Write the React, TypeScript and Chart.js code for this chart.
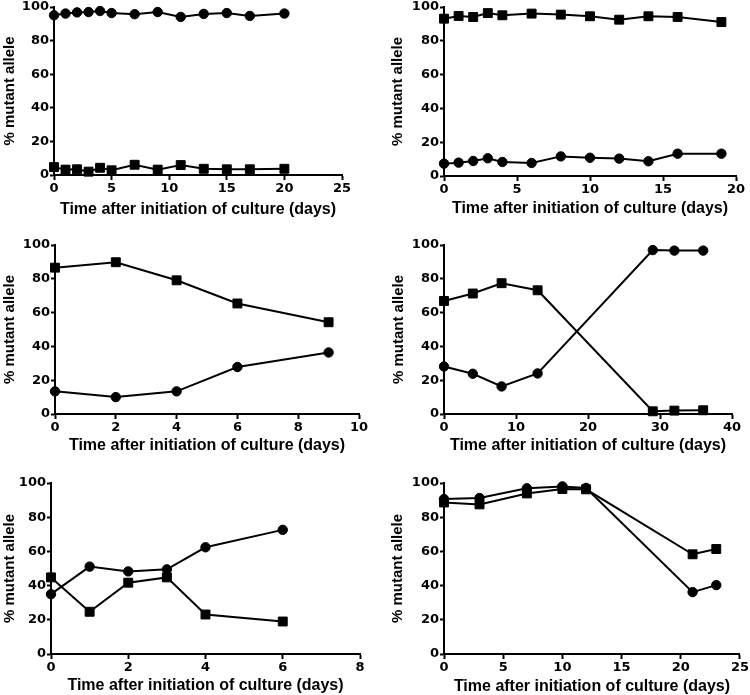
import React, { useEffect, useRef } from "react";
import { Chart, registerables } from "chart.js";
Chart.register(...registerables);

// ---------- data ----------
const Y_TICKS_MAX = 100;
const Y_STEP = 20;
const X_TITLE = "Time after initiation of culture (days)";
const Y_TITLE = "% mutant allele";

// Panel 1 (top left)
const p1Days = [0, 1, 2, 3, 4, 5, 7, 9, 11, 13, 15, 17, 20];
const p1Circle = [95.1, 96.1, 96.8, 97.0, 97.6, 96.4, 95.7, 97.0, 94.1, 95.9, 96.4, 94.7, 96.1];
const p1Square = [4.7, 3.2, 3.4, 2.0, 4.3, 2.8, 6.1, 3.2, 5.9, 3.7, 3.4, 3.4, 3.7];

// Panel 2 (top right)
const p2Days = [0, 1, 2, 3, 4, 6, 8, 10, 12, 14, 16, 19];
const p2Square = [93.1, 94.7, 94.1, 96.4, 95.1, 96.1, 95.5, 94.5, 92.5, 94.5, 94.1, 91.1];
const p2Circle = [7.3, 7.9, 8.9, 10.5, 8.3, 7.7, 11.6, 10.8, 10.3, 8.7, 13.2, 13.2];

// Panel 3 (middle left)
const p3Days = [0, 2, 4, 6, 9];
const p3Square = [86.6, 89.8, 79.1, 65.4, 54.3];
const p3Circle = [13.4, 10.0, 13.4, 27.8, 36.4];

// Panel 4 (middle right)
const p4Days = [0, 4, 8, 13, 29, 32, 36];
const p4Square = [66.9, 71.3, 77.4, 73.2, 1.6, 2.0, 2.2];
const p4Circle = [28.1, 23.8, 16.3, 24.0, 97.0, 96.7, 96.7];

// Panel 5 (bottom left)
const p5Days = [0, 1, 2, 3, 4, 6];
const p5Circle = [35.0, 51.1, 48.3, 49.5, 62.4, 72.6];
const p5Square = [44.8, 24.7, 41.7, 44.8, 23.1, 19.0];

// Panel 6 (bottom right)
const p6Days = [0, 3, 7, 10, 12, 21, 23];
const p6Circle = [90.6, 91.2, 96.9, 98.0, 97.1, 36.2, 40.3];
const p6Square = [88.6, 87.5, 93.9, 96.5, 96.3, 58.3, 61.4];

// x-axis ranges
const p1XMax = 25, p1XStep = 5;
const p2XMax = 20, p2XStep = 5;
const p3XMax = 10, p3XStep = 2;
const p4XMax = 40, p4XStep = 10;
const p5XMax = 8, p5XStep = 2;
const p6XMax = 25, p6XStep = 5;

// ---------- layout ----------
type Layout = {
  col: number; axL: number; axR: number; axT: number; axB: number;
  yTitleX: number; xTitleY: number;
};

type PanelSpec = {
  layout: Layout;
  days: number[];
  circle: number[];
  square: number[];
  xMax: number;
  xStep: number;
};

const panels: PanelSpec[] = [
  { layout: { col: 0, axL: 54, axR: 342, axT: 7, axB: 175, yTitleX: 10, xTitleY: 209 },
    days: p1Days, circle: p1Circle, square: p1Square, xMax: p1XMax, xStep: p1XStep },
  { layout: { col: 375, axL: 444, axR: 736, axT: 7, axB: 176, yTitleX: 398, xTitleY: 208 },
    days: p2Days, circle: p2Circle, square: p2Square, xMax: p2XMax, xStep: p2XStep },
  { layout: { col: 0, axL: 55, axR: 359, axT: 245, axB: 414, yTitleX: 10, xTitleY: 445 },
    days: p3Days, circle: p3Circle, square: p3Square, xMax: p3XMax, xStep: p3XStep },
  { layout: { col: 375, axL: 444, axR: 732, axT: 245, axB: 414, yTitleX: 399, xTitleY: 445 },
    days: p4Days, circle: p4Circle, square: p4Square, xMax: p4XMax, xStep: p4XStep },
  { layout: { col: 0, axL: 51, axR: 360, axT: 483, axB: 654, yTitleX: 10, xTitleY: 685 },
    days: p5Days, circle: p5Circle, square: p5Square, xMax: p5XMax, xStep: p5XStep },
  { layout: { col: 375, axL: 444, axR: 742, axT: 483, axB: 654, yTitleX: 398, xTitleY: 686 },
    days: p6Days, circle: p6Circle, square: p6Square, xMax: p6XMax, xStep: p6XStep },
];

const TICK_FONT = { family: "'DejaVu Sans', sans-serif", size: 13, weight: "bold" as const };
const XTITLE_FONT = { family: "'Liberation Sans', Arial, sans-serif", size: 16, weight: "bold" as const };
const YTITLE_FONT = { family: "'Liberation Sans', Arial, sans-serif", size: 15, weight: "bold" as const };

const PAD_T = 10;
const PAD_R = 10;

function Panel({ spec }: { spec: PanelSpec }) {
  const ref = useRef<HTMLCanvasElement | null>(null);
  const L = spec.layout;
  const left = L.col;
  const top = L.axT - PAD_T;
  const right = Math.min(L.axR + PAD_R + 4, L.col + 375);
  const padR = right - L.axR;
  const bottom = Math.round(L.xTitleY + XTITLE_FONT.size * 1.2 / 2 + 1);
  const width = right - left;
  const height = bottom - top;
  const yAxisWidth = L.axL - left;
  const xAxisHeight = bottom - L.axB;
  const yTitlePad = L.yTitleX - left - YTITLE_FONT.size * 1.2 / 2;

  useEffect(() => {
    if (!ref.current) return;
    const circleData = spec.days.map((d, i) => ({ x: d, y: spec.circle[i] }));
    const squareData = spec.days.map((d, i) => ({ x: d, y: spec.square[i] }));
    const chart = new Chart(ref.current, {
      type: "line",
      data: {
        datasets: [
          {
            data: circleData,
            borderColor: "#000",
            backgroundColor: "#000",
            borderWidth: 2,
            pointStyle: "circle",
            pointRadius: 4.7,
            pointBorderWidth: 1,
            pointBackgroundColor: "#000",
            pointBorderColor: "#000",
            tension: 0,
            clip: false,
          },
          {
            data: squareData,
            borderColor: "#000",
            backgroundColor: "#000",
            borderWidth: 2,
            pointStyle: "rect",
            pointRadius: 6.3,
            pointBorderWidth: 1,
            pointBackgroundColor: "#000",
            pointBorderColor: "#000",
            tension: 0,
            clip: false,
          },
        ],
      },
      options: {
        animation: false,
        responsive: false,
        devicePixelRatio: 1,
        layout: { padding: { top: PAD_T, right: padR, left: 0, bottom: 0 } },
        plugins: { legend: { display: false }, tooltip: { enabled: false } },
        scales: {
          x: {
            type: "linear",
            min: 0,
            max: spec.xMax,
            ticks: {
              stepSize: spec.xStep,
              font: TICK_FONT,
              color: "#000",
              padding: 1,
              maxRotation: 0,
              autoSkip: false,
            },
            grid: {
              display: true,
              drawOnChartArea: false,
              drawTicks: true,
              tickLength: 5,
              tickWidth: 2,
              tickColor: "#000",
            },
            border: { display: true, color: "#000", width: 2 },
            title: {
              display: true,
              text: X_TITLE,
              font: XTITLE_FONT,
              color: "#000",
              padding: { top: 0, bottom: 1 },
            },
            afterFit: (s: any) => { s.height = xAxisHeight; },
          },
          y: {
            type: "linear",
            min: 0,
            max: Y_TICKS_MAX,
            ticks: {
              stepSize: Y_STEP,
              font: TICK_FONT,
              color: "#000",
              padding: 1,
            },
            grid: {
              display: true,
              drawOnChartArea: false,
              drawTicks: true,
              tickLength: 4,
              tickWidth: 2,
              tickColor: "#000",
            },
            border: { display: true, color: "#000", width: 2 },
            title: {
              display: true,
              text: Y_TITLE,
              font: YTITLE_FONT,
              color: "#000",
              padding: { top: yTitlePad, bottom: 0 },
            },
            afterFit: (s: any) => { s.width = yAxisWidth; },
          },
        },
      },
    } as any);
    return () => chart.destroy();
  }, []);

  return (
    <canvas
      ref={ref}
      width={width}
      height={height}
      style={{ position: "absolute", left, top, width, height }}
    />
  );
}

export default function App() {
  return (
    <div
      style={{
        position: "absolute",
        left: 0,
        top: 0,
        width: 750,
        height: 695,
        overflow: "hidden",
        background: "#fff",
      }}
    >
      {panels.map((p, i) => (
        <Panel key={i} spec={p} />
      ))}
    </div>
  );
}
